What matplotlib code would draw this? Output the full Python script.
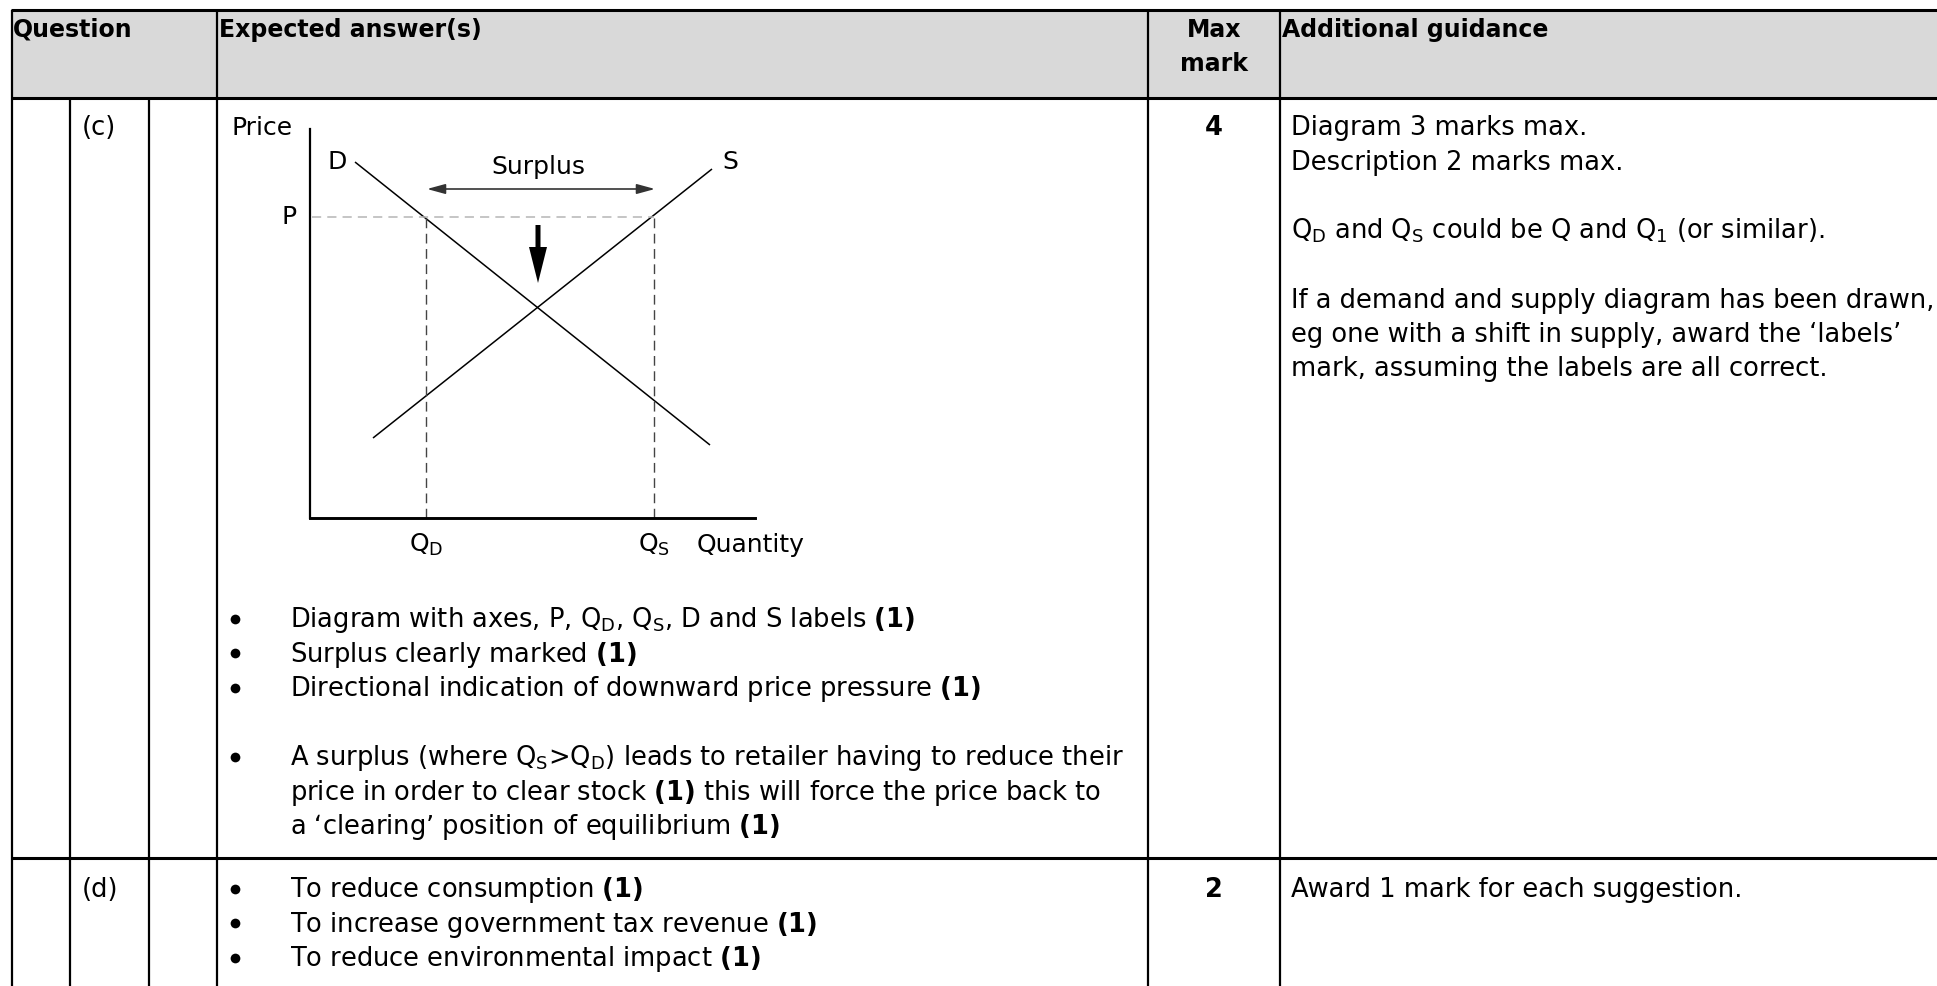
import matplotlib
matplotlib.use("Agg")
import matplotlib.pyplot as plt
from matplotlib.patches import Rectangle, FancyArrow

plt.rcParams['font.family'] = ['DejaVu Sans']
plt.rcParams['mathtext.default'] = 'regular'
plt.rcParams['mathtext.fontset'] = 'dejavusans'

# ---------------- data ----------------
header_labels = ["Question", "Expected answer(s)", "Max\nmark", "Additional guidance"]
question_parts = ["(c)", "(d)"]
max_marks = ["4", "2"]

# supply / demand diagram (units: diagram coordinates)
demand_x = [45, 400]
demand_y = [356, 73]
supply_x = [63, 402]
supply_y = [80, 349]
price_P = 301
qty_QD = 116
qty_QS = 344
equilibrium_x = 228
axis_x_max = 445
axis_y_max = 389
surplus_y = 329
pressure_arrow_y = [293, 235]

bullets_c = [
    ["Diagram with axes, P, $Q_D$, $Q_S$, D and S labels $\\mathbf{(1)}$"],
    ["Surplus clearly marked $\\mathbf{(1)}$"],
    ["Directional indication of downward price pressure $\\mathbf{(1)}$"],
    None,
    ["A surplus (where $Q_S$>$Q_D$) leads to retailer having to reduce their",
     "price in order to clear stock $\\mathbf{(1)}$ this will force the price back to",
     "a \u2018clearing\u2019 position of equilibrium $\\mathbf{(1)}$"],
]
bullets_d = [
    "To reduce consumption $\\mathbf{(1)}$",
    "To increase government tax revenue $\\mathbf{(1)}$",
    "To reduce environmental impact $\\mathbf{(1)}$",
]
guidance_c = [
    "Diagram 3 marks max.",
    "Description 2 marks max.",
    "",
    "$Q_D$ and $Q_S$ could be Q and $Q_1$ (or similar).",
    "",
    "If a demand and supply diagram has been drawn,",
    "eg one with a shift in supply, award the \u2018labels\u2019",
    "mark, assuming the labels are all correct.",
]
guidance_d = ["Award 1 mark for each suggestion."]

# ---------------- layout ----------------
W, H = 1937, 986
fig = plt.figure(figsize=(W / 100, H / 100), dpi=100)
ax = fig.add_axes([0, 0, 1, 1])
ax.set_xlim(0, W)
ax.set_ylim(H, 0)
ax.axis('off')

BODY = 18.5
HEAD = 17
LS = 34.5
top, head_bot, div = 10, 98, 858
xL, xA, xB, xC, xM, xG = 12, 70, 149, 217, 1148, 1280

ax.add_patch(Rectangle((xL, top), W - xL, head_bot - top, facecolor='#d9d9d9',
                       edgecolor='none', zorder=0))
hl = 2.2
vl = 1.6
for y in (top, head_bot, div):
    ax.plot([xL - 1, W], [y, y], color='black', lw=hl, solid_capstyle='butt', zorder=3)
for x in (xL, xC, xM, xG):
    ax.plot([x, x], [top, H], color='black', lw=vl, solid_capstyle='butt', zorder=3)
for x in (xA, xB):
    ax.plot([x, x], [head_bot, H], color='black', lw=vl, solid_capstyle='butt', zorder=3)


def bullet(yb):
    ax.plot([235], [yb - 8.5], marker='o', markersize=7, color='black',
            markeredgewidth=0, zorder=4)


# header
hb = 37
ax.text(13, hb, header_labels[0], fontsize=HEAD, fontweight='bold', va='baseline', ha='left')
ax.text(219, hb, header_labels[1], fontsize=HEAD, fontweight='bold', va='baseline', ha='left')
mm = header_labels[2].split("\n")
ax.text((xM + xG) / 2, hb, mm[0], fontsize=HEAD, fontweight='bold', va='baseline', ha='center')
ax.text((xM + xG) / 2, hb + 34, mm[1], fontsize=HEAD, fontweight='bold', va='baseline', ha='center')
ax.text(1282, hb, header_labels[3], fontsize=HEAD, fontweight='bold', va='baseline', ha='left')

# row (c)
rc = 135
ax.text(82, rc, question_parts[0], fontsize=BODY, va='baseline', ha='left')
ax.text((xM + xG) / 2, rc, max_marks[0], fontsize=BODY, fontweight='bold', va='baseline', ha='center')
for i, line in enumerate(guidance_c):
    if line:
        ax.text(1291, rc + i * LS, line, fontsize=BODY, va='baseline', ha='left')

y = 627
for item in bullets_c:
    if item is None:
        y += LS
        continue
    bullet(y)
    for j, line in enumerate(item):
        ax.text(290, y + j * LS, line, fontsize=BODY, va='baseline', ha='left')
    y += LS * len(item)

# row (d)
rd = 897
ax.text(82, rd, question_parts[1], fontsize=BODY, va='baseline', ha='left')
ax.text((xM + xG) / 2, rd, max_marks[1], fontsize=BODY, fontweight='bold', va='baseline', ha='center')
for i, line in enumerate(bullets_d):
    bullet(rd + i * LS)
    ax.text(290, rd + i * LS, line, fontsize=BODY, va='baseline', ha='left')
for i, line in enumerate(guidance_d):
    ax.text(1291, rd + i * LS, line, fontsize=BODY, va='baseline', ha='left')

# ---------------- diagram ----------------
ox, oy = 310, 518
dax = fig.add_axes([ox / W, (H - oy) / H, axis_x_max / W, axis_y_max / H])
dax.set_xlim(0, axis_x_max)
dax.set_ylim(0, axis_y_max)
dax.patch.set_visible(False)
for s in ('top', 'right'):
    dax.spines[s].set_visible(False)
dax.spines['left'].set_linewidth(1.6)
dax.spines['bottom'].set_linewidth(2.1)
dax.set_xticks([])
dax.set_yticks([])

dax.plot(demand_x, demand_y, color='black', lw=1.1, solid_capstyle='butt')
dax.plot(supply_x, supply_y, color='black', lw=1.1, solid_capstyle='butt')
dax.plot([2, qty_QS], [price_P, price_P], color='#b5b5b5', lw=1.1, dashes=(6, 4))
for q in (qty_QD, qty_QS):
    dax.plot([q, q], [0, price_P], color='#444444', lw=1.0, dashes=(7, 4))

dax.annotate('', xy=(qty_QD + 1, surplus_y), xytext=(qty_QS + 1, surplus_y),
             arrowprops=dict(arrowstyle='<|-|>,head_length=1.1,head_width=0.3',
                             mutation_scale=10, lw=1.2, color='#333333',
                             shrinkA=0, shrinkB=0))
dax.add_patch(FancyArrow(equilibrium_x, pressure_arrow_y[0], 0,
                         pressure_arrow_y[1] - pressure_arrow_y[0],
                         width=5, head_width=18, head_length=36,
                         length_includes_head=True, color='black', lw=0))

tk = dict(fontsize=18, clip_on=False)
dax.text(-17, axis_y_max - 6, "Price", ha='right', va='baseline', **tk)
dax.text(37, demand_y[0], "D", ha='right', va='center', **tk)
dax.text(412, supply_y[1] + 7, "S", ha='left', va='center', **tk)
dax.text(equilibrium_x, 351, "Surplus", ha='center', va='center', **tk)
dax.text(-13, price_P, "P", ha='right', va='center', **tk)
dax.text(qty_QD, -34, "$Q_D$", ha='center', va='baseline', **tk)
dax.text(qty_QS, -34, "$Q_S$", ha='center', va='baseline', **tk)
dax.text(387, -34, "Quantity", ha='left', va='baseline', **tk)

fig.savefig('out.png', dpi=100)
